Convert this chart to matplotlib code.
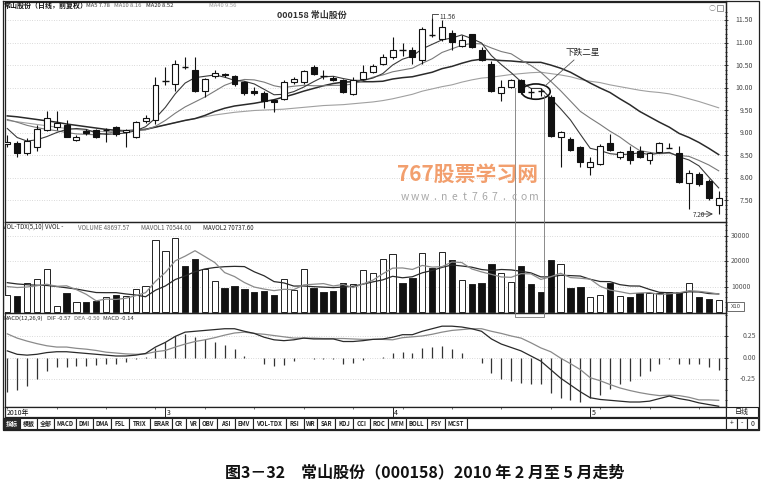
import matplotlib
matplotlib.use('Agg')
import matplotlib.pyplot as plt
from matplotlib.patches import Rectangle, Ellipse
from matplotlib.lines import Line2D
from matplotlib.transforms import blended_transform_factory as btf

plt.rcParams['font.family'] = ['Noto Sans CJK SC', 'DejaVu Sans']

# ---------------- data ----------------
opens = [8.76, 8.77, 8.55, 8.70, 9.06, 9.14, 9.17, 8.85, 9.05, 9.07,
         9.05, 9.14, 9.03, 8.91, 9.26, 9.28, 10.15, 10.09, 10.48, 10.39,
         9.93, 10.27, 10.32, 10.26, 10.13, 9.93, 9.88, 9.74, 9.76, 10.13,
         10.13, 10.46, 10.27, 10.23, 10.18, 9.87, 10.20, 10.35, 10.54, 10.68,
         10.86, 10.85, 10.63, 11.18, 11.09, 11.22, 10.94, 11.19, 10.85, 10.54,
         9.89, 10.02, 10.17, 9.92, 9.94, 9.80, 8.91, 8.87, 8.70, 8.24,
         8.31, 8.77, 8.46, 8.60, 8.61, 8.40, 8.57, 8.68, 8.55, 7.88,
         8.09, 7.93, 7.39]
closes = [8.80, 8.55, 8.83, 9.09, 9.34, 9.22, 8.92, 8.92, 9.00, 8.92,
          9.07, 8.97, 9.06, 9.24, 9.34, 10.06, 10.17, 10.54, 10.46, 9.94,
          10.20, 10.33, 10.28, 10.08, 9.88, 9.88, 9.71, 9.69, 10.13, 10.20,
          10.37, 10.32, 10.25, 10.18, 9.91, 10.18, 10.35, 10.48, 10.68, 10.85,
          10.84, 10.68, 11.32, 11.16, 11.35, 11.02, 11.07, 10.92, 10.63, 9.94,
          10.03, 10.18, 9.91, 9.91, 9.93, 8.94, 9.02, 8.63, 8.35, 8.35,
          8.72, 8.63, 8.57, 8.40, 8.46, 8.55, 8.77, 8.67, 7.91, 8.11,
          7.87, 7.56, 7.56]
highs = [8.95, 8.82, 8.88, 9.17, 9.48, 9.48, 9.29, 8.95, 9.08, 9.09,
         9.10, 9.16, 9.08, 9.27, 9.40, 10.24, 10.46, 10.63, 10.69, 10.69,
         10.23, 10.39, 10.34, 10.29, 10.15, 10.02, 9.93, 9.76, 10.17, 10.24,
         10.39, 10.52, 10.40, 10.26, 10.20, 10.24, 10.50, 10.54, 10.76, 11.14,
         11.00, 10.91, 11.35, 11.56, 11.50, 11.28, 11.17, 11.21, 10.91, 10.61,
         10.17, 10.20, 10.20, 10.00, 10.00, 9.84, 9.04, 8.91, 8.72, 8.46,
         8.76, 8.98, 8.61, 8.72, 8.72, 8.57, 8.79, 8.77, 8.72, 8.17,
         8.13, 7.98, 7.72]
lows = [8.68, 8.46, 8.52, 8.61, 9.04, 9.07, 8.91, 8.82, 8.96, 8.89,
        8.80, 8.94, 8.68, 8.89, 9.23, 9.20, 10.06, 9.93, 10.43, 9.90,
        9.80, 10.22, 10.24, 10.05, 9.85, 9.84, 9.56, 9.46, 9.73, 10.09,
        10.09, 10.28, 10.20, 10.16, 9.88, 9.84, 10.17, 10.33, 10.50, 10.65,
        10.72, 10.54, 10.54, 11.14, 11.05, 10.85, 10.91, 10.88, 10.61, 9.90,
        9.72, 10.00, 9.87, 9.78, 9.83, 8.92, 8.24, 8.61, 8.24, 8.06,
        8.28, 8.61, 8.43, 8.31, 8.44, 8.31, 8.55, 8.66, 7.88, 7.30,
        7.82, 7.52, 7.20]
ma5 = [9.10, 8.90, 8.82, 8.85, 8.92, 9.01, 9.08, 9.10, 9.08, 9.00,
       8.97, 8.98, 9.00, 9.05, 9.14, 9.33, 9.57, 9.87, 10.11, 10.23,
       10.26, 10.29, 10.24, 10.17, 10.15, 10.09, 9.97, 9.85, 9.86, 9.92,
       10.02, 10.14, 10.25, 10.26, 10.21, 10.17, 10.17, 10.22, 10.32, 10.51,
       10.64, 10.71, 10.87, 10.97, 11.07, 11.11, 11.18, 11.10, 11.00, 10.72,
       10.52, 10.34, 10.14, 9.99, 9.99, 9.77, 9.54, 9.29, 8.97, 8.66,
       8.61, 8.54, 8.52, 8.53, 8.56, 8.52, 8.55, 8.57, 8.47, 8.40,
       8.27, 8.02, 7.78]
ma10 = [9.30, 9.24, 9.17, 9.12, 9.08, 9.05, 9.01, 8.98, 8.97, 8.96,
        8.99, 9.03, 9.05, 9.07, 9.07, 9.15, 9.28, 9.44, 9.58, 9.69,
        9.80, 9.93, 10.06, 10.14, 10.19, 10.18, 10.13, 10.05, 10.01, 10.04,
        10.06, 10.05, 10.05, 10.06, 10.06, 10.09, 10.16, 10.24, 10.29, 10.36,
        10.40, 10.44, 10.55, 10.65, 10.79, 10.87, 10.95, 10.99, 10.98, 10.89,
        10.81, 10.76, 10.62, 10.50, 10.35, 10.15, 9.94, 9.71, 9.48, 9.33,
        9.19, 9.04, 8.91, 8.75, 8.61, 8.57, 8.54, 8.55, 8.50, 8.48,
        8.39, 8.29, 8.16]
ma20 = [9.38, 9.36, 9.33, 9.30, 9.27, 9.24, 9.20, 9.17, 9.14, 9.11,
        9.08, 9.06, 9.05, 9.06, 9.08, 9.13, 9.18, 9.23, 9.28, 9.32,
        9.39, 9.48, 9.55, 9.60, 9.63, 9.66, 9.70, 9.74, 9.80, 9.86,
        9.93, 9.99, 10.05, 10.10, 10.13, 10.14, 10.14, 10.14, 10.15, 10.20,
        10.23, 10.25, 10.30, 10.35, 10.43, 10.48, 10.55, 10.61, 10.64, 10.63,
        10.61, 10.60, 10.58, 10.57, 10.57, 10.51, 10.44, 10.35, 10.23, 10.11,
        10.00, 9.90, 9.76, 9.63, 9.48, 9.36, 9.24, 9.13, 8.99, 8.90,
        8.79, 8.66, 8.52]
ma40 = [9.28, 9.25, 9.22, 9.19, 9.16, 9.13, 9.10, 9.08, 9.06, 9.04,
        9.03, 9.03, 9.04, 9.06, 9.09, 9.13, 9.18, 9.23, 9.28, 9.32,
        9.36, 9.40, 9.43, 9.46, 9.48, 9.50, 9.51, 9.52, 9.53, 9.55,
        9.57, 9.59, 9.61, 9.62, 9.63, 9.65, 9.67, 9.69, 9.72, 9.76,
        9.81, 9.86, 9.93, 9.98, 10.03, 10.07, 10.13, 10.18, 10.22, 10.24,
        10.27, 10.30, 10.32, 10.34, 10.35, 10.32, 10.29, 10.25, 10.19, 10.15,
        10.12, 10.07, 10.03, 9.99, 9.95, 9.92, 9.90, 9.87, 9.82, 9.76,
        9.70, 9.63, 9.56]
volumes = [6500, 6300, 11500, 13100, 17000, 2500, 7300, 3900, 3900, 4300,
           6000, 6500, 6300, 8900, 10200, 28200, 23900, 29200, 18000, 20900,
           16700, 12200, 9500, 10200, 9200, 7800, 8200, 6500, 12800, 8600,
           17000, 9500, 7800, 8200, 11500, 10800, 16500, 15400, 20700, 22600,
           11200, 13500, 23300, 17400, 23500, 20300, 12500, 10800, 11500, 18700,
           15200, 11800, 18000, 11100, 7800, 20400, 18700, 9500, 9800, 6000,
           6500, 11200, 6300, 6000, 7300, 7300, 7300, 7800, 8000, 11500,
           5900, 5000, 4870]
mavol1 = [10000, 9600, 9800, 10300, 10880, 10080, 10280, 8760, 6920, 4380,
          5080, 4920, 5400, 6400, 7580, 12020, 15500, 20080, 21900, 24040,
          21740, 19400, 15460, 13900, 11560, 9780, 8980, 8380, 8900, 8780,
          10620, 10880, 11140, 10220, 10800, 9560, 10960, 12480, 14980, 17200,
          17280, 16680, 18260, 17600, 17780, 19600, 19400, 16900, 15720, 14760,
          13740, 13600, 15040, 14960, 12780, 13820, 15200, 13500, 13240, 12880,
          10100, 8600, 7960, 7200, 7460, 7620, 6840, 7140, 7540, 8380,
          8100, 7640, 7054]
mavol2 = [11500, 11000, 10700, 10500, 10400, 10000, 9500, 9000, 8300, 7630,
          7580, 7600, 7080, 6660, 5980, 8550, 10210, 12740, 14150, 15810,
          16880, 17450, 17770, 17900, 17800, 15760, 14190, 11920, 11400, 10170,
          10200, 9930, 9760, 9560, 9790, 10090, 10920, 11810, 12600, 14000,
          13420, 13820, 15370, 16290, 17490, 18440, 18040, 17580, 16660, 16270,
          16670, 16500, 15970, 15340, 13770, 13780, 14400, 14270, 14100, 12830,
          11960, 11900, 10730, 10220, 10170, 8860, 7720, 7550, 7370, 7920,
          7860, 7240, 7074]
dif = [0.08, 0.04, 0.03, 0.04, 0.06, 0.07, 0.07, 0.06, 0.05, 0.04,
       0.03, 0.02, 0.02, 0.03, 0.05, 0.125, 0.18, 0.25, 0.30, 0.31,
       0.32, 0.33, 0.34, 0.34, 0.31, 0.285, 0.24, 0.21, 0.20, 0.21,
       0.23, 0.22, 0.22, 0.22, 0.19, 0.19, 0.20, 0.215, 0.22, 0.24,
       0.27, 0.27, 0.31, 0.34, 0.37, 0.37, 0.36, 0.34, 0.31, 0.22,
       0.16, 0.12, 0.08, 0.02, -0.04, -0.14, -0.24, -0.32, -0.40, -0.47,
       -0.49, -0.50, -0.51, -0.52, -0.52, -0.51, -0.48, -0.45, -0.48, -0.50,
       -0.53, -0.55, -0.57]
dea = [0.28, 0.23, 0.195, 0.165, 0.14, 0.125, 0.125, 0.11, 0.10, 0.085,
       0.065, 0.055, 0.045, 0.04, 0.045, 0.07, 0.085, 0.125, 0.16, 0.19,
       0.21, 0.235, 0.265, 0.29, 0.30, 0.285, 0.275, 0.26, 0.245, 0.23,
       0.23, 0.23, 0.225, 0.225, 0.225, 0.22, 0.215, 0.215, 0.215, 0.21,
       0.235, 0.245, 0.255, 0.275, 0.30, 0.32, 0.33, 0.34, 0.34, 0.31,
       0.285, 0.255, 0.23, 0.175, 0.115, 0.07, -0.005, -0.07, -0.14, -0.235,
       -0.27, -0.315, -0.355, -0.385, -0.41, -0.43, -0.445, -0.44, -0.445, -0.465,
       -0.495, -0.495, -0.50]
macd = [-0.40, -0.38, -0.33, -0.25, -0.16, -0.11, -0.11, -0.10, -0.10, -0.09,
        -0.07, -0.07, -0.05, -0.02, 0.01, 0.11, 0.19, 0.25, 0.28, 0.24,
        0.22, 0.19, 0.15, 0.10, 0.02, 0.0, -0.07, -0.10, -0.09, -0.04,
        0.0, -0.02, -0.01, -0.01, -0.07, -0.06, -0.03, 0.0, 0.01, 0.06,
        0.07, 0.05, 0.11, 0.13, 0.14, 0.10, 0.06, 0.0, -0.06, -0.18,
        -0.25, -0.27, -0.30, -0.31, -0.31, -0.42, -0.47, -0.50, -0.52, -0.47,
        -0.44, -0.37, -0.31, -0.27, -0.22, -0.16, -0.07, -0.02, -0.07, -0.07,
        -0.07, -0.11, -0.14]
month_labels = ['2010年', '3', '4', '5']
month_starts = [None, 16, 39, 59]
price_ticks = [7.50, 8.00, 8.50, 9.00, 9.50, 10.00, 10.50, 11.00, 11.50]
vol_ticks = [10000, 20000, 30000]
macd_ticks = [-0.25, 0.00, 0.25]
tab_labels = ['指标', '模板', '全部', 'MACD', 'DMI', 'DMA', 'FSL', 'TRIX', 'BRAR', 'CR', 'VR',
              'OBV', 'ASI', 'EMV', 'VOL-TDX', 'RSI', 'WR', 'SAR', 'KDJ', 'CCI', 'ROC',
              'MTM', 'BOLL', 'PSY', 'MCST']

# ---------------- layout helpers ----------------
W, H = 762, 494
fig = plt.figure(figsize=(W / 100, H / 100), dpi=100)
fig.patch.set_facecolor('white')
n = len(closes)
XL = (-0.23, 72.69)


def FX(x):
    return x / W


def FY(y):
    return 1 - y / H


def fline(xs, ys, **kw):
    fig.add_artist(Line2D([FX(x) for x in xs], [FY(y) for y in ys],
                          transform=fig.transFigure, **kw))


def ftext(x, y, s, **kw):
    fig.text(FX(x), FY(y), s, **kw)


def frect(x0, y0, x1, y1, **kw):
    fig.add_artist(Rectangle((FX(x0), FY(y1)), (x1 - x0) / W, (y1 - y0) / H,
                             transform=fig.transFigure, **kw))


def panel(y0, y1):
    ax = fig.add_axes([FX(5), FY(y1), FX(725.5) - FX(5), (y1 - y0) / H])
    ax.set_xlim(*XL)
    ax.set_xticks([])
    ax.yaxis.tick_right()
    ax.tick_params(axis='y', which='both', direction='inout', labelright=False,
                   length=3, width=0.6, color='#222')
    ax.tick_params(axis='y', which='minor', length=1.6)
    for s in ax.spines.values():
        s.set_linewidth(0.9)
        s.set_color('#222')
    ax.set_facecolor('none')
    return ax


GRID = dict(color='#b8b8b8', lw=0.5, ls=(0, (1, 2.5)), zorder=0)

# ---------------- price panel ----------------
ax1 = panel(2, 222)
ax1.set_ylim(11.5 - (222 - 20.5) / 45, 11.5 + (20.5 - 2) / 45)
ax1.set_yticks(price_ticks)
ax1.set_yticks([7.1 + 0.1 * k for k in range(47)], minor=True)
for p in price_ticks:
    ax1.axhline(p, **GRID)

for i in range(n):
    o, c, h, l = opens[i], closes[i], highs[i], lows[i]
    ax1.vlines(i, l, h, color='#111', lw=0.8, zorder=3)
    if abs(c - o) < 0.025:
        ax1.hlines((o + c) / 2, i - 0.32, i + 0.32, color='#111', lw=1.0, zorder=4)
    elif c > o:
        ax1.add_patch(Rectangle((i - 0.3, o), 0.6, c - o, facecolor='white',
                                edgecolor='#111', lw=0.8, zorder=4))
    else:
        ax1.add_patch(Rectangle((i - 0.3, c), 0.6, o - c, facecolor='#111',
                                edgecolor='#111', lw=0.8, zorder=4))

xs = list(range(n))
ax1.plot(xs, ma40, color='#a0a0a0', lw=0.8, zorder=2)
ax1.plot(xs, ma20, color='#2a2a2a', lw=1.1, zorder=2)
ax1.plot(xs, ma10, color='#7a7a7a', lw=0.8, zorder=2)
ax1.plot(xs, ma5, color='#3a3a3a', lw=0.8, zorder=2)

tr = btf(ax1.transAxes, ax1.transData)
for p in price_ticks:
    ax1.text(1 + (753 - 725.5) / 720.5, p, f'{p:.2f}', transform=tr, ha='right',
             va='center', fontsize=5, color='#444', clip_on=False)

# ellipse around the two stars
ax1.add_patch(Ellipse((53.5, 9.92), 2.9, 0.34, fill=False, edgecolor='#111', lw=1.2, zorder=6))

# watermark
ftext(468, 174, '767股票学习网', fontsize=15, fontweight='bold', color='#f1955e',
      ha='center', va='center', alpha=0.9)
for k, ch in enumerate('www.net767.com'):
    ftext(405 + 9.9 * k, 197, ch, fontsize=7.5, color='#a8a8a8', ha='center', va='center')

# high / low markers
fline([432, 432, 438], [18, 14.5, 14.5], color='#333', lw=0.6)
ftext(439, 17, '11.56', fontsize=4.6, color='#333', ha='left', va='center')
ftext(705, 214.5, '7.20', fontsize=4.6, color='#333', ha='right', va='center')
ax1.annotate('', xy=(72 - 0.3, 7.20), xytext=(69.9, 7.20),
             arrowprops=dict(arrowstyle='->', color='#333', lw=0.6))

# annotation text and leader
ftext(583, 52, '下跌二星', fontsize=6.2, color='#222', ha='center', va='center')
fline([574, 545], [60, 86], color='#555', lw=0.6)

# headers
ftext(3, 5.5, '常山股份（日线，前复权）', fontsize=5, fontweight='bold', color='#111',
      ha='left', va='center')
ftext(86, 5.5, 'MA5 7.78', fontsize=4.2, color='#333', ha='left', va='center')
ftext(114, 5.5, 'MA10 8.16', fontsize=4.2, color='#666', ha='left', va='center')
ftext(146, 5.5, 'MA20 8.52', fontsize=4.2, color='#222', ha='left', va='center')
ftext(209, 5.5, 'MA40 9.56', fontsize=4.2, color='#999', ha='left', va='center')
ftext(312, 15.5, '000158 常山股份', fontsize=6.5, fontweight='bold', color='#333',
      ha='center', va='center')
ftext(712, 9, '○', fontsize=5, color='#888', ha='center', va='center')
frect(717, 5.5, 723, 11.5, facecolor='white', edgecolor='#888', lw=0.6)

# ---------------- volume panel ----------------
ax2 = panel(222, 313)
ax2.set_ylim(-10000 / 25.5, (312 - 222) / 25.5 * 10000)
ax2.set_yticks(vol_ticks)
ax2.set_yticks([2000 * k for k in range(1, 18)], minor=True)
for v in vol_ticks:
    ax2.axhline(v, **GRID)
for i in range(n):
    up = closes[i] >= opens[i]
    ax2.add_patch(Rectangle((i - 0.32, 0), 0.64, volumes[i],
                            facecolor='white' if up else '#111',
                            edgecolor='#222', lw=0.7, zorder=3))
ax2.plot(xs, mavol2, color='#2a2a2a', lw=0.9, zorder=4)
ax2.plot(xs, mavol1, color='#8a8a8a', lw=0.9, zorder=4)
tr2 = btf(ax2.transAxes, ax2.transData)
for v in vol_ticks:
    ax2.text(1 + (731 - 725.5) / 720.5, v, f'{v}', transform=tr2, ha='left',
             va='center', fontsize=5, color='#555', clip_on=False)
frect(727, 302, 744, 311, facecolor='white', edgecolor='#555', lw=0.6)
ftext(735.5, 306.5, 'X10', fontsize=4.3, color='#444', ha='center', va='center')
ftext(3, 227.5, 'VOL-TDX(5,10) VVOL -', fontsize=4.4, color='#222', ha='left', va='center')
ftext(78, 227.5, 'VOLUME 48697.57', fontsize=4.4, color='#666', ha='left', va='center')
ftext(141, 227.5, 'MAVOL1 70544.00', fontsize=4.4, color='#555', ha='left', va='center')
ftext(203, 227.5, 'MAVOL2 70737.60', fontsize=4.4, color='#222', ha='left', va='center')

# boxed region around the signal days
fline([515, 515, 544, 544], [88, 317, 317, 95], color='#777', lw=0.6)

# ---------------- MACD panel ----------------
ax3 = panel(313, 407)
ax3.set_ylim(-(407 - 357.7) / 85.2, (357.7 - 313) / 85.2)
ax3.set_yticks(macd_ticks)
ax3.set_yticks([-0.5, -0.375, -0.125, 0.125, 0.375, 0.5], minor=True)
for v in macd_ticks:
    ax3.axhline(v, **GRID)
for i in range(n):
    if macd[i] != 0:
        ax3.vlines(i, 0, macd[i], color='#333', lw=0.9, zorder=3)
ax3.plot(xs, dea, color='#8a8a8a', lw=0.9, zorder=4)
ax3.plot(xs, dif, color='#2a2a2a', lw=0.9, zorder=4)
tr3 = btf(ax3.transAxes, ax3.transData)
for v in macd_ticks:
    ax3.text(1 + (756 - 725.5) / 720.5, v, f'{v:.2f}', transform=tr3, ha='right',
             va='center', fontsize=5, color='#555', clip_on=False)
ftext(3, 318.5, 'MACD(12,26,9)', fontsize=4.2, color='#222', ha='left', va='center')
ftext(47, 318.5, 'DIF -0.57', fontsize=4.2, color='#333', ha='left', va='center')
ftext(74, 318.5, 'DEA -0.50', fontsize=4.2, color='#666', ha='left', va='center')
ftext(103, 318.5, 'MACD -0.14', fontsize=4.2, color='#333', ha='left', va='center')

# ---------------- date row ----------------
axd = fig.add_axes([FX(5), FY(417), FX(725.5) - FX(5), 10 / H])
axd.set_xlim(*XL)
axd.set_ylim(0, 1)
axd.set_xticks([])
axd.set_yticks([])
for s in axd.spines.values():
    s.set_linewidth(0.9)
    s.set_color('#222')
for k in range(0, n, 5):
    axd.vlines(k, 0.8, 1.0, color='#333', lw=0.5)
for lab, st in zip(month_labels, month_starts):
    if st is None:
        axd.text(-0.1, 0.45, lab, fontsize=5, color='#111', ha='left', va='center')
    else:
        axd.vlines(st, 0.0, 1.0, color='#222', lw=0.7)
        axd.text(st + 0.15, 0.45, lab, fontsize=5, color='#111', ha='left', va='center')
frect(726, 407, 758, 417, facecolor='white', edgecolor='#222', lw=0.8)
ftext(742, 412, '日线', fontsize=5, color='#111', ha='center', va='center')

# ---------------- indicator tabs ----------------
x = 3
for k, lab in enumerate(tab_labels):
    w = 17 if ord(lab[0]) > 255 else 3.9 * len(lab) + 6
    dark = (k == 0)
    frect(x, 418, x + w, 429, facecolor='#2a2a2a' if dark else 'white',
          edgecolor='#222', lw=0.8)
    ftext(x + w / 2, 423.5, lab, fontsize=4.3, fontweight='bold',
          color='white' if dark else '#222', ha='center', va='center')
    x += w
frect(x, 418, 726, 429, facecolor='white', edgecolor='#222', lw=0.8)
for j, s in enumerate(['+', '-', '0']):
    frect(726 + 10.7 * j, 418, 726 + 10.7 * (j + 1), 429, facecolor='white',
          edgecolor='#222', lw=0.8)
    ftext(726 + 10.7 * j + 5.35, 423.5, s, fontsize=5, color='#222', ha='center', va='center')

# ---------------- outer frame ----------------
fline([3, 759, 759, 3, 3], [1.5, 1.5, 430, 430, 1.5], color='#222', lw=0.9)
fline([725.5, 725.5], [1.5, 407], color='#222', lw=0.9)

# ---------------- caption ----------------
ftext(425, 472, '图3－32　常山股份（000158）2010 年 2 月至 5 月走势', fontsize=11.5,
      fontweight='bold', color='#111', ha='center', va='center')

fig.savefig('out.png', dpi=100, facecolor='white')
